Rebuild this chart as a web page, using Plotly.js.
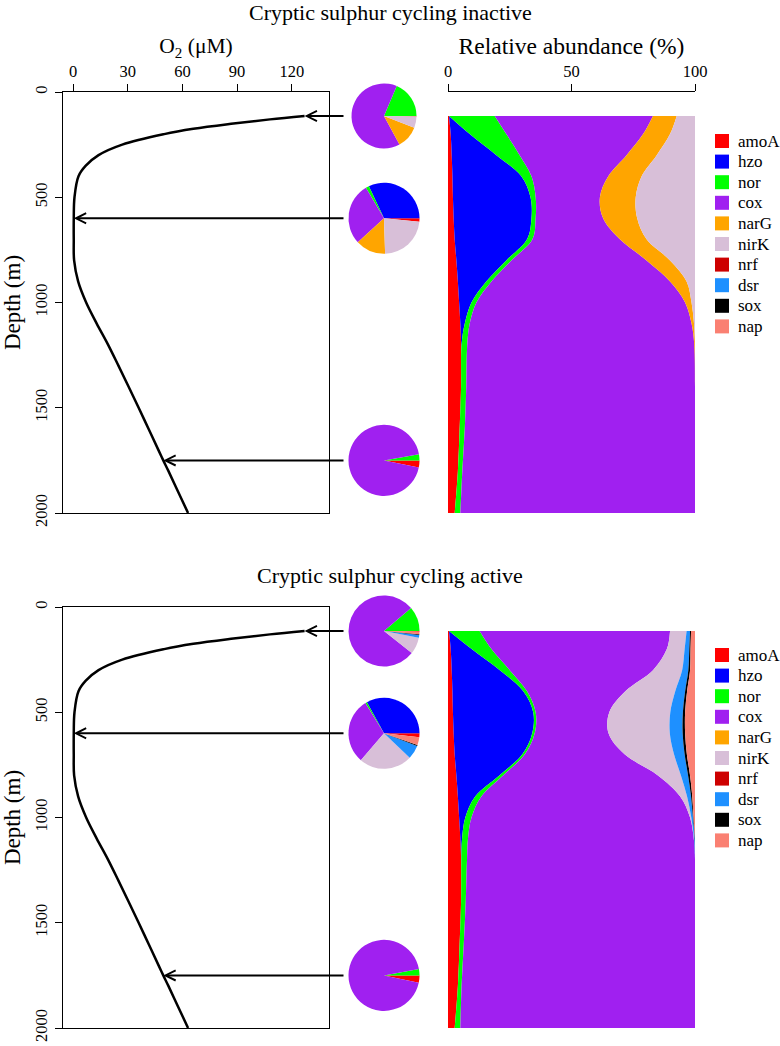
<!DOCTYPE html>
<html><head><meta charset="utf-8">
<script src="https://cdn.plot.ly/plotly-3.0.1.min.js"></script>
<style>
html,body{margin:0;padding:0;background:#fff}
</style>
</head><body><div id="chart" style="width:780px;height:1046px"></div>
<script>
// ---------------- DATA ----------------
const genes = ['amoA','hzo','nor','cox','narG','nirK','nrf','dsr','sox','nap'];
const geneColors = ['#FF0000','#0000FF','#00FF00','#A020F0','#FFA500','#D8BFD8','#CD0000','#1E90FF','#000000','#FA8072'];

const panelTitles = ['Cryptic sulphur cycling inactive','Cryptic sulphur cycling active'];

// O2 profile (same in both panels)
const o2Depth = [114,130,150,175,200,250,300,350,400,500,600,700,800,900,1000,1100,1200,1300,1400,1500,1600,1700,1750,1800,1900,2000];
const o2Value = [127,108,88,66,50,27,14,7,3,0.8,0.4,0.4,0.6,2.8,7.2,13.0,19.2,24.9,30.5,36.0,41.4,46.8,49.5,52.3,57.7,63.1];

// Relative abundance profiles (%)
const abDepth = [114,200,300,400,500,600,700,800,900,1000,1100,1200,1400,1600,1800,2000];

const inactive_amoA = [0.4,1.1,1.5,1.8,2.0,2.3,2.7,3.4,4.0,4.5,5.0,5.3,5.3,4.7,4.0,2.7];
const inactive_hzo  = [0,7.7,18.1,27.9,31.4,31.5,29.3,20.2,11.5,5.0,1.8,0.2,0,0,0,0];
const inactive_nor  = [18.5,14.8,9.4,4.1,2.1,1.7,2.2,2.1,2.1,2.0,2.0,2.3,2.1,2.1,1.8,2.3];
const inactive_cox  = [64.1,55.4,43.3,31.1,26.0,27.3,35.4,54.7,72.3,84.5,89.8,91.9,92.6,93.2,94.2,95.0];
const inactive_narG = [9.6,10.9,12.2,13.5,14.5,13.8,10.8,9.5,6.7,2.6,1.0,0.3,0,0,0,0];
const inactive_nirK = [7.4,10.1,15.5,21.6,24.0,23.4,19.6,10.1,3.4,1.4,0.4,0,0,0,0,0];
const inactive_nrf  = [0,0,0,0,0,0,0,0,0,0,0,0,0,0,0,0];
const inactive_dsr  = [0,0,0,0,0,0,0,0,0,0,0,0,0,0,0,0];
const inactive_sox  = [0,0,0,0,0,0,0,0,0,0,0,0,0,0,0,0];
const inactive_nap  = [0,0,0,0,0,0,0,0,0,0,0,0,0,0,0,0];

const active_amoA = [0.4,1.1,1.5,1.8,2.0,2.3,2.7,3.4,4.0,4.5,5.0,5.3,5.3,4.7,4.0,2.7];
const active_hzo  = [0,8.5,19.5,28.7,32.5,31.8,27.4,17.4,7.0,2.5,0.7,0.1,0,0,0,0];
const active_nor  = [12.4,8.0,4.0,1.5,1.0,1.0,1.0,1.5,2.5,2.5,2.4,2.3,1.9,1.7,1.5,2.3];
const active_cox  = [77.1,71.0,58.0,39.8,29.8,29.9,40.4,62.7,80.5,88.5,91.4,92.3,92.8,93.6,94.5,95.0];
const active_narG = [0,0,0,0,0,0,0,0,0,0,0,0,0,0,0,0];
const active_nirK = [6.7,7.2,11.8,20.2,24.7,24.8,20.0,9.3,2.8,0.5,0.1,0,0,0,0,0];
const active_nrf  = [0,0,0,0,0,0,0,0,0,0,0,0,0,0,0,0];
const active_dsr  = [1.4,1.9,2.5,4.0,5.1,5.2,4.3,2.9,1.6,0.7,0.3,0,0,0,0,0];
const active_sox  = [0.4,0.5,0.7,0.8,0.9,1.0,0.9,0.8,0.5,0.2,0.1,0,0,0,0,0];
const active_nap  = [1.6,1.8,2.0,3.2,4.0,4.0,3.3,2.0,1.1,0.6,0,0,0,0,0,0];

// Pie charts at selected depths (%)
const pieDepths = [114,600,1750];
const pie_inactive_114  = [0.3,0,18.6,64.3,11.2,5.6,0,0,0,0];
const pie_inactive_600  = [1.5,32,1.5,28.3,13.7,23,0,0,0,0];
const pie_inactive_1750 = [3.2,0,2.8,94,0,0,0,0,0,0];
const pie_active_114    = [0.3,0,11.2,78.1,0,7.6,0,1.3,0.3,1.2];
const pie_active_600    = [1.8,33,0.8,29.9,0,24.2,0,6.3,0.4,3.6];
const pie_active_1750   = [3.3,0,2.9,93.8,0,0,0,0,0,0];

const o2Ticks = [0,30,60,90,120];
const depthTicks = [0,500,1000,1500,2000];
const abTicks = [0,50,100];

// ---------------- LAYOUT / BUILD ----------------
const W = 780, H = 1046;
const FONT = 'Liberation Serif';
const o2Range = [-5.5, 140.4];
const o2L = 63, o2R = 329, abL = 448, abR = 695, pieCX = 384, arrowTailPx = 345;
const panelGeo = [{top:92, bottom:513, titleY:12, showX:true}, {top:607, bottom:1028, titleY:575, showX:false}];
const pieR = [[32.5,35.5,35.5],[35.5,35.5,35.5]];
const legendX = 722, legendTop = [141, 655], legendStep = 20.6, legendBox = 14;

const abData = [
  [inactive_amoA,inactive_hzo,inactive_nor,inactive_cox,inactive_narG,inactive_nirK,inactive_nrf,inactive_dsr,inactive_sox,inactive_nap],
  [active_amoA,active_hzo,active_nor,active_cox,active_narG,active_nirK,active_nrf,active_dsr,active_sox,active_nap]
];
const pieData = [
  [pie_inactive_114,pie_inactive_600,pie_inactive_1750],
  [pie_active_114,pie_active_600,pie_active_1750]
];

const px2x = p => p / W;
const px2y = p => 1 - p / H;

const traces = [];
const layout = {
  width: W, height: H, autosize: false,
  margin: {l:0, r:0, t:0, b:0},
  paper_bgcolor: '#fff', plot_bgcolor: 'rgba(0,0,0,0)',
  showlegend: false,
  font: {family: FONT, size: 16, color: '#000'},
  annotations: [], shapes: []
};

function axBase() {
  return {
    showgrid: false, zeroline: false, ticks: 'outside', ticklen: 7, tickwidth: 1,
    tickcolor: '#000', showline: true, linecolor: '#000', linewidth: 1,
    tickfont: {family: FONT, size: 16.5, color: '#000'}, fixedrange: true
  };
}

panelGeo.forEach((g, p) => {
  const n = 2*p + 1, m = 2*p + 2;
  const yDom = [px2y(g.bottom), px2y(g.top)];
  const xa = 'xaxis' + (n === 1 ? '' : n), ya = 'yaxis' + (n === 1 ? '' : n);
  const xb = 'xaxis' + m, yb = 'yaxis' + m;
  const xr = n === 1 ? 'x' : 'x' + n, yr = n === 1 ? 'y' : 'y' + n;
  const xr2 = 'x' + m, yr2 = 'y' + m;

  layout[xa] = Object.assign(axBase(), {
    domain: [px2x(o2L), px2x(o2R)], range: o2Range, side: 'top', anchor: yr,
    tickvals: o2Ticks, mirror: true, ticklabelstandoff: 0,
    ticks: g.showX ? 'outside' : '', showticklabels: g.showX,
    title: {text: g.showX ? 'O<sub>2</sub> (μM)' : '', font: {family: FONT, size: 21.5, color: '#000'}, standoff: 2}
  });
  layout[ya] = Object.assign(axBase(), {
    domain: yDom, range: [2000, 0], anchor: xr, tickvals: depthTicks,
    tickangle: -90, mirror: true, ticklabelstandoff: 1,
    title: {text: 'Depth (m)', font: {family: FONT, size: 23, color: '#000'}, standoff: 9}
  });
  layout[xb] = Object.assign(axBase(), {
    domain: [px2x(abL), px2x(abR)], range: [0, 100], side: 'top', anchor: yr2,
    tickvals: abTicks, ticklabelstandoff: 0, visible: g.showX,
    title: {text: 'Relative abundance (%)', font: {family: FONT, size: 23.5, color: '#000'}, standoff: 1}
  });
  layout[yb] = {domain: yDom, range: [2000, 0], anchor: xr2, visible: false, fixedrange: true};

  // O2 profile
  traces.push({
    type: 'scatter', mode: 'lines', x: o2Value, y: o2Depth, xaxis: xr, yaxis: yr,
    line: {color: '#000', width: 2.5, shape: 'spline'}, hoverinfo: 'skip'
  });

  // stacked relative abundance
  abData[p].forEach((vals, i) => {
    traces.push({
      type: 'scatter', mode: 'none', x: vals, y: abDepth, xaxis: xr2, yaxis: yr2,
      stackgroup: 'ab' + p, orientation: 'h', groupnorm: 'percent',
      fillcolor: geneColors[i], line: {shape: 'spline', width: 0},
      name: genes[i], hoverinfo: 'skip'
    });
  });

  // pies + arrows
  const span = g.bottom - g.top;
  pieDepths.forEach((d, k) => {
    const cy = g.top + d / 2000 * span;
    const r = pieR[p][k];
    traces.push({
      type: 'pie', values: pieData[p][k], labels: genes, sort: false,
      direction: 'counterclockwise', rotation: 90, textinfo: 'none', hoverinfo: 'skip',
      marker: {colors: geneColors, line: {width: 0}}, showlegend: false,
      domain: {x: [px2x(pieCX - r), px2x(pieCX + r)], y: [px2y(cy + r), px2y(cy - r)]}
    });
    const idx = o2Depth.indexOf(d);
    const tailVal = o2Range[0] + (arrowTailPx - o2L) / (o2R - o2L) * (o2Range[1] - o2Range[0]);
    layout.annotations.push({
      x: o2Value[idx], y: d, xref: xr, yref: yr,
      ax: tailVal, ay: d, axref: xr, ayref: yr,
      text: '', showarrow: true, arrowhead: 5, arrowsize: 1, arrowwidth: 2,
      arrowcolor: '#000', standoff: 0
    });
  });

  // panel title
  layout.annotations.push({
    text: panelTitles[p], xref: 'paper', yref: 'paper', x: 0.5, y: px2y(g.titleY),
    xanchor: 'center', yanchor: 'middle', showarrow: false,
    font: {family: FONT, size: 22, color: '#000'}
  });

  // legend
  genes.forEach((gname, i) => {
    const cy = legendTop[p] + i * legendStep;
    layout.shapes.push({
      type: 'rect', xref: 'paper', yref: 'paper',
      x0: px2x(legendX - legendBox/2), x1: px2x(legendX + legendBox/2),
      y0: px2y(cy + legendBox/2), y1: px2y(cy - legendBox/2),
      fillcolor: geneColors[i], line: {width: 0}
    });
    layout.annotations.push({
      text: gname, xref: 'paper', yref: 'paper', x: px2x(legendX + 14), y: px2y(cy),
      xanchor: 'left', yanchor: 'middle', showarrow: false,
      font: {family: FONT, size: 17, color: '#000'}
    });
  });
});

Plotly.newPlot('chart', traces, layout, {staticPlot: true, displayModeBar: false});
</script>
</body></html>
